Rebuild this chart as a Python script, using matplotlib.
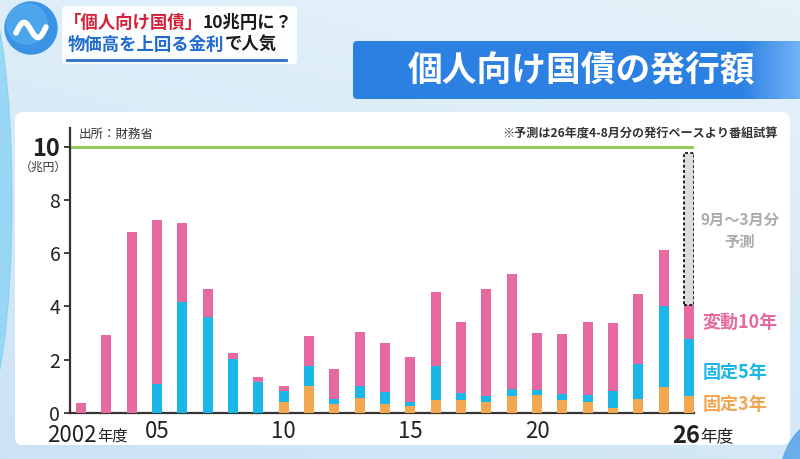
import numpy as np
import matplotlib.pyplot as plt
from matplotlib.patches import FancyBboxPatch, Circle, Ellipse

plt.rcParams['font.family'] = ['Noto Sans CJK JP', 'DejaVu Sans']

# data (兆円)
years = list(range(2002, 2027))
fixed3 = [0, 0, 0, 0, 0, 0, 0, 0, 0.43, 1.03, 0.33, 0.57, 0.34, 0.28, 0.49,
          0.49, 0.42, 0.64, 0.66, 0.48, 0.40, 0.19, 0.53, 0.98, 0.63]
fixed5 = [0, 0, 0, 1.10, 4.15, 3.60, 2.02, 1.15, 0.40, 0.75, 0.20, 0.46, 0.45,
          0.15, 1.26, 0.25, 0.20, 0.26, 0.19, 0.25, 0.28, 0.63, 1.32, 3.05, 2.15]
floating10 = [0.36, 2.94, 6.81, 6.15, 2.97, 1.06, 0.25, 0.19, 0.17, 1.12, 1.12,
              2.00, 1.82, 1.69, 2.79, 2.69, 4.04, 4.32, 2.15, 2.22, 2.72, 2.56,
              2.63, 2.09, 1.28]
forecast_year = 2026
forecast_extra = 5.71

ytick_vals = [0, 2, 4, 6, 8, 10]
xtick_years = [2005, 2010, 2015, 2020]
xtick_labels = ['05', '10', '15', '20']

c_pink = '#e6699f'
c_blue = '#1ab6e8'
c_orange = '#f2a650'

fig = plt.figure(figsize=(8, 4.59), dpi=100)

# background layer in pixel coordinates
bg = fig.add_axes([0, 0, 1, 1])
bg.set_xlim(0, 800)
bg.set_ylim(459, 0)
bg.axis('off')

h, w = 459, 800
yy, xx = np.mgrid[0:h, 0:w]
top = np.array([0.90, 0.95, 0.98])
bot = np.array([0.80, 0.89, 0.96])
t = (yy / h * 0.7 + (1 - xx / w) * 0.3)[..., None]
grad = top * (1 - t) + bot * t
bg.imshow(grad, extent=[0, 800, 459, 0], aspect='auto', zorder=0)

bg.add_patch(Ellipse((-18, 200), 60, 420, color='#7fd0f4', alpha=0.7, zorder=1))
bg.add_patch(Ellipse((835, 480), 110, 130, color='#4f9fe8', alpha=0.8, zorder=1))

# white chart panel
bg.add_patch(FancyBboxPatch((15, 112), 775, 333, boxstyle='round,pad=0,rounding_size=8',
                            fc='white', ec='none', zorder=2))

# logo
bg.add_patch(Circle((31, 28), 26, color='#3a93e3', zorder=3))
bg.add_patch(Circle((27, 24), 20, color='#58b2f0', alpha=0.6, zorder=3))
sx = np.linspace(16, 46, 40)
bg.plot(sx, 30 - 9 * np.sin((sx - 16) / 30 * 2 * np.pi) + (sx - 31) * -0.2,
        color='white', lw=4, solid_capstyle='round', zorder=4)

# subtitle box
bg.add_patch(FancyBboxPatch((62, 6), 235, 58, boxstyle='round,pad=0,rounding_size=4',
                            fc='white', ec='none', alpha=0.9, zorder=3))
bg.plot([67, 286], [60, 60], color='#2a6fc9', lw=2, zorder=4)

r = fig.canvas.get_renderer()


def colored_line(x, y, parts, **kw):
    for s, c in parts:
        txt = bg.text(x, y, s, color=c, va='center', ha='left', zorder=5, **kw)
        x += txt.get_window_extent(renderer=r).width


colored_line(64, 23, [('「個人向け国債」', '#d3223a'), ('10兆円に？', '#1a1a1a')],
             fontsize=12.5, fontweight='bold')
colored_line(68, 45, [('物価高を上回る金利', '#1f6bd0'), ('で人気', '#1a1a1a')],
             fontsize=12.5, fontweight='bold')

# title box with a light right end
bg.add_patch(FancyBboxPatch((353, 41), 470, 58, boxstyle='round,pad=0,rounding_size=4',
                            fc='#2b80e2', ec='none', zorder=3))
fade = np.linspace(0, 1, 60)[None, :, None] * np.ones((1, 1, 1))
fade_rgba = np.concatenate([np.ones((1, 60, 3)) * np.array([0.45, 0.70, 0.96]), fade], axis=2)
bg.imshow(fade_rgba, extent=[740, 800, 99, 41], aspect='auto', zorder=3.5)
bg.text(581, 71, '個人向け国債の発行額', color='white', fontsize=25, fontweight='bold',
        ha='center', va='center', zorder=5)
bg.set_xlim(0, 800)
bg.set_ylim(459, 0)

# chart axes
ax = fig.add_axes([70 / 800, (459 - 413) / 459, 624 / 800, (413 - 128) / 459])
ax.patch.set_alpha(0)
x0 = 2002 - 11 / 25.33
x1 = 2026 + 5 / 25.33
ax.set_xlim(x0, x1)
ax.set_ylim(0, 10.7)

bw = 0.395
f3 = np.array(fixed3)
f5 = np.array(fixed5)
v10 = np.array(floating10)
ax.bar(years, f3, width=bw, color=c_orange, zorder=3)
ax.bar(years, f5, width=bw, bottom=f3, color=c_blue, zorder=3)
ax.bar(years, v10, width=bw, bottom=f3 + f5, color=c_pink, zorder=3)

fi = years.index(forecast_year)
ax.bar([forecast_year], [forecast_extra], width=bw, bottom=f3[fi] + f5[fi] + v10[fi],
       color='#dcdcdc', edgecolor='#222222', linestyle=(0, (1.5, 1.2)), linewidth=1.4, zorder=3)

ax.axhline(10, color='#8cc652', lw=2, zorder=2)

for s in ['top', 'right']:
    ax.spines[s].set_visible(False)
for s in ['left', 'bottom']:
    ax.spines[s].set_color('#333333')
    ax.spines[s].set_linewidth(1.6)

ax.set_yticks(ytick_vals)
ax.set_yticklabels([str(v) for v in ytick_vals])
ax.tick_params(axis='y', length=4, width=1.3, color='#333333', pad=3,
               labelsize=14, labelcolor='#222222')
ytl = ax.get_yticklabels()
ytl[-1].set_fontsize(17)
ytl[-1].set_fontweight('bold')

ax.set_xticks(xtick_years)
ax.set_xticklabels(xtick_labels)
ax.tick_params(axis='x', length=0, pad=5, labelsize=16, labelcolor='#222222')

# edge year labels
xf = ax.get_xaxis_transform()
ax.text(2002.63, -0.079, '2002', transform=xf, ha='right', va='center',
        fontsize=16, color='#222222')
ax.text(2002.63, -0.082, '年度', transform=xf, ha='left', va='center',
        fontsize=11, color='#222222')
ax.text(2026.43, -0.079, '26', transform=xf, ha='right', va='center',
        fontsize=17, fontweight='bold', color='#222222')
ax.text(2026.43, -0.082, '年度', transform=xf, ha='left', va='center',
        fontsize=12, color='#222222', clip_on=False)

# notes and labels in pixel coords
bg.text(43, 167, '（兆円）', ha='center', va='center', fontsize=8.5, color='#333333', zorder=5)
bg.text(79, 134, '出所：財務省', ha='left', va='center', fontsize=9, color='#333333', zorder=5)
bg.text(778, 134, '※予測は26年度4-8月分の発行ペースより番組試算', ha='right', va='center',
        fontsize=8.7, fontweight='bold', color='#333333', zorder=5)

bg.text(740, 220, '9月～3月分', ha='center', va='center', fontsize=11,
        fontweight='bold', color='#ababab', zorder=5)
bg.text(740, 242, '予測', ha='center', va='center', fontsize=11,
        fontweight='bold', color='#ababab', zorder=5)
bg.text(703, 322, '変動10年', ha='left', va='center', fontsize=13,
        fontweight='bold', color=c_pink, zorder=5)
bg.text(703, 372, '固定5年', ha='left', va='center', fontsize=13,
        fontweight='bold', color=c_blue, zorder=5)
bg.text(703, 405, '固定3年', ha='left', va='center', fontsize=13,
        fontweight='bold', color=c_orange, zorder=5)

fig.savefig('out.png', dpi=100)
